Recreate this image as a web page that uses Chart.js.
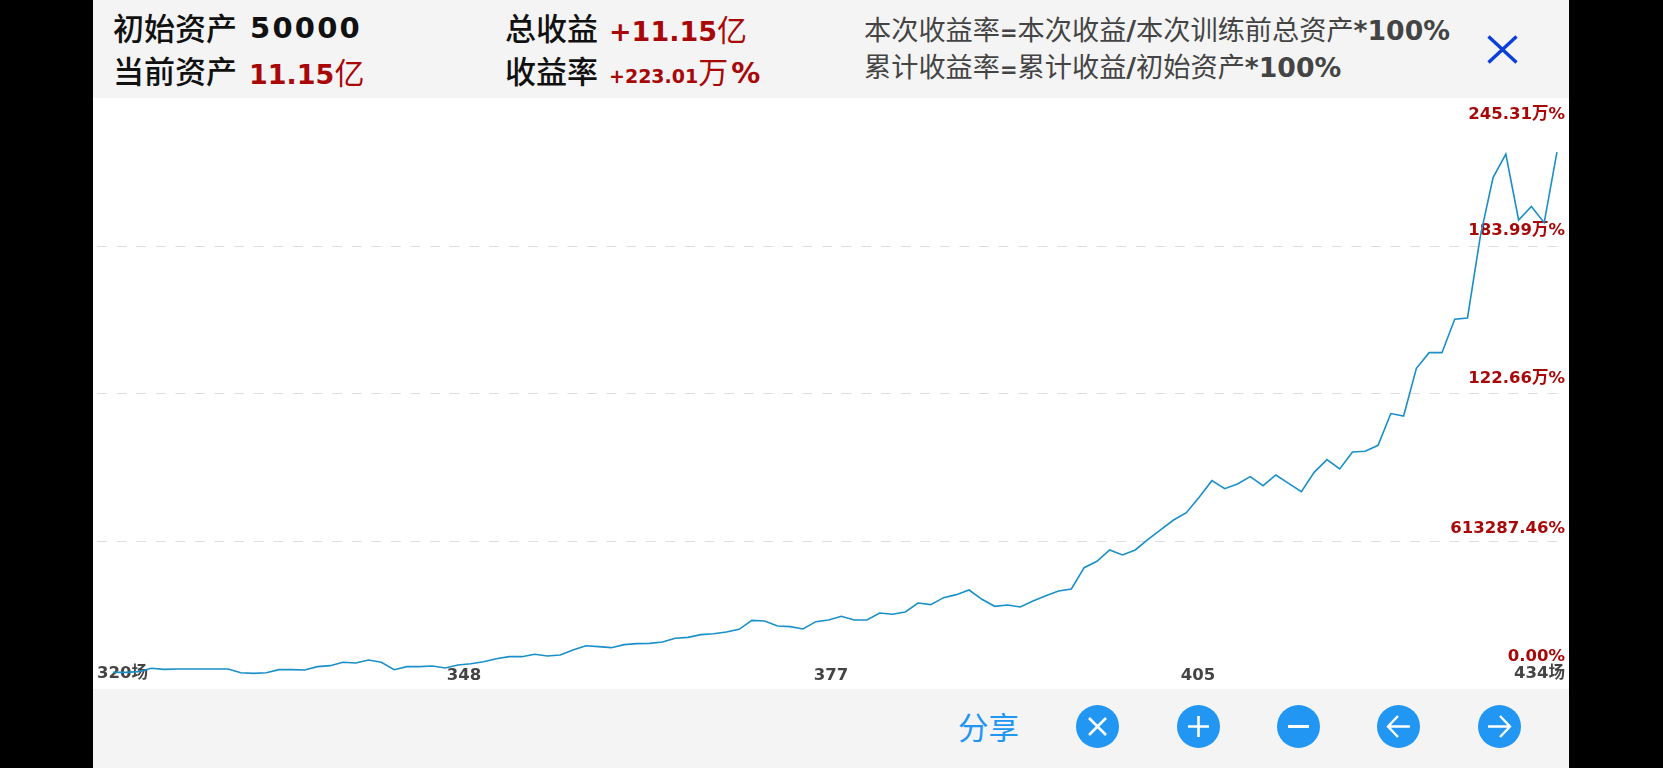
<!DOCTYPE html>
<html>
<head>
<meta charset="utf-8">
<script src="https://cdn.jsdelivr.net/npm/chart.js"></script>
<style>
html, body { margin: 0; width: 1663px; height: 768px; background: #000; overflow: hidden; }
body { font-family: "DejaVu Sans", "Noto Sans CJK SC", sans-serif; }
#plot { position: absolute; left: 93px; top: 98px; width: 1476px; height: 591px; background: #fff; }
.panel { position: absolute; left: 93px; width: 1476px; background: #f4f4f4; }
canvas { position: absolute; left: 0; top: 0; }
.t { position: absolute; white-space: nowrap; line-height: 40px; height: 40px; }
.cn { font-family: "Noto Sans CJK SC", sans-serif; font-weight: 400; }
.lab { font-size: 31px; color: #111; font-weight: 500; }
.b { font-weight: 700; font-size: 27px; color: #a80808; }
.f { font-size: 27.2px; color: #444; }
.f b { font-size: 26.7px; }
.f b.eq { font-size: 21px; }
.btn { position: absolute; top: 705px; width: 43px; height: 43px; border-radius: 50%; background: #2196f3; }
.btn svg { display: block; }
</style>
</head>
<body>
<div class="panel" style="top:0;height:98px"></div>
<div id="plot"></div>
<div class="panel" style="top:689px;height:79px"></div>

<div class="t cn lab" style="left:113px;top:7px">初始资产</div>
<div class="t b" style="left:250px;top:8px;color:#111;font-size:29px;letter-spacing:2.2px">50000</div>
<div class="t cn lab" style="left:113px;top:50px">当前资产</div>
<div class="t b" style="left:249px;top:51px">11.15<span class="cn" style="font-size:30px">亿</span></div>
<div class="t cn lab" style="left:505px;top:7px">总收益</div>
<div class="t b" style="left:609px;top:8px">+11.15<span class="cn" style="font-size:30px">亿</span></div>
<div class="t cn lab" style="left:505px;top:50px">收益率</div>
<div class="t b" style="left:609px;top:50px;font-size:19px">+223.01<span class="cn" style="font-size:30px;letter-spacing:3px">万</span><span style="font-size:29px">%</span></div>
<div class="t f" style="left:864px;top:8px"><span class="cn">本次收益率</span><b class="eq">=</b><span class="cn">本次收益</span><b>/</b><span class="cn">本次训练前总资产</span><b>*100%</b></div>
<div class="t f" style="left:864px;top:45px"><span class="cn">累计收益率</span><b class="eq">=</b><span class="cn">累计收益</span><b>/</b><span class="cn">初始资产</span><b>*100%</b></div>
<svg style="position:absolute;left:1487px;top:35px" width="31" height="29"><path d="M1.5 1.5L29.5 27.5M29.5 1.5L1.5 27.5" stroke="#0a3fdc" stroke-width="3.4" fill="none"/></svg>

<div class="t cn" style="left:958px;top:706px;font-size:30.5px;color:#2196f3">分享</div>
<div class="btn" style="left:1076px"><svg width="43" height="43"><path d="M13 13L30 30M30 13L13 30" stroke="#fff" stroke-width="2.6"/></svg></div>
<div class="btn" style="left:1177px"><svg width="43" height="43"><path d="M11 21.5H32M21.5 11V32" stroke="#fff" stroke-width="2.6"/></svg></div>
<div class="btn" style="left:1277px"><svg width="43" height="43"><path d="M11 21.5H32" stroke="#fff" stroke-width="3"/></svg></div>
<div class="btn" style="left:1377px"><svg width="43" height="43"><path d="M11 21.5H33M21 11L11 21.5L21 32" stroke="#fff" stroke-width="2.4" fill="none"/></svg></div>
<div class="btn" style="left:1478px"><svg width="43" height="43"><path d="M10 21.5H32M22 11L32 21.5L22 32" stroke="#fff" stroke-width="2.4" fill="none"/></svg></div>

<canvas id="chart" width="1663" height="768"></canvas>

<script>
// games played, x axis
const games = [
    321, 322, 323, 324, 325, 326, 327, 328, 329, 330,
    331, 332, 333, 334, 335, 336, 337, 338, 339, 340,
    341, 342, 343, 344, 345, 346, 347, 348, 349, 350,
    351, 352, 353, 354, 355, 356, 357, 358, 359, 360,
    361, 362, 363, 364, 365, 366, 367, 368, 369, 370,
    371, 372, 373, 374, 375, 376, 377, 378, 379, 380,
    381, 382, 383, 384, 385, 386, 387, 388, 389, 390,
    391, 392, 393, 394, 395, 396, 397, 398, 399, 400,
    401, 402, 403, 404, 405, 406, 407, 408, 409, 410,
    411, 412, 413, 414, 415, 416, 417, 418, 419, 420,
    421, 422, 423, 424, 425, 426, 427, 428, 429, 430,
    431, 432, 433, 434
];

// cumulative return, in 万%
const returns = [
    6.92, 6.92, 7.2, 8.59, 8.17, 8.31, 8.31, 8.31, 8.31, 8.31,
    6.78, 6.51, 6.78, 8.03, 8.03, 7.89, 9.28, 9.69, 11.08, 10.8,
    12.05, 11.08, 8.03, 9.28, 9.28, 9.55, 8.72, 9.97, 10.52, 11.35,
    12.6, 13.43, 13.43, 14.4, 13.71, 14.12, 16.2, 17.95, 17.59, 17.17,
    18.42, 18.83, 18.97, 19.52, 21.05, 21.46, 22.57, 22.98, 23.68, 24.79,
    28.52, 28.25, 26.17, 25.89, 24.92, 27.97, 28.66, 30.19, 28.66, 28.66,
    31.57, 31.02, 31.99, 35.72, 35.03, 37.94, 39.19, 41.12, 37.25, 34.34,
    34.89, 34.06, 36.56, 38.77, 40.71, 41.54, 50.4, 53.03, 57.74, 55.66,
    57.74, 62.17, 66.19, 70.2, 73.25, 79.62, 86.54, 83.22, 85.16, 88.2,
    84.46, 88.9, 85.43, 81.97, 90.0, 95.27, 91.39, 98.45, 98.73, 101.22,
    114.4, 113.4, 133.2, 139.7, 139.7, 153.56, 154.1, 187.9, 212.4, 222.2,
    194.8, 200.4, 193.7, 223.01
];

const yTicks = [0, 61.3287, 122.66, 183.99, 245.31];
const yTickLabels = ['0.00%', '613287.46%', '122.66万%', '183.99万%', '245.31万%'];
const xTickLabels = ['320场', '348', '377', '405', '434场'];

const family = '"DejaVu Sans", "Noto Sans CJK SC", sans-serif';

new Chart(document.getElementById('chart'), {
    type: 'line',
    data: {
        labels: games,
        datasets: [{
            data: games.map((g, i) => ({ x: g, y: returns[i] })),
            borderColor: '#1a8fc8',
            borderWidth: 1.6,
            pointRadius: 0,
            tension: 0,
            clip: false
        }]
    },
    options: {
        responsive: false,
        animation: false,
        layout: { padding: { left: 97, right: 98, top: 98.4, bottom: 79 } },
        plugins: { legend: { display: false }, tooltip: { enabled: false } },
        scales: {
            x: {
                type: 'linear',
                min: 319.75,
                max: 434.63,
                grid: { display: false },
                border: { display: false },
                afterBuildTicks: axis => {
                    axis.ticks = xTickLabels.map((l, i) => ({ value: axis.min + i * (axis.max - axis.min) / 4 }));
                },
                afterFit: axis => { axis.height = 0; },
                ticks: {
                    autoSkip: false,
                    maxRotation: 0,
                    align: 'inner',
                    // mirror keeps the labels inside the plot and out of the axis clip box
                    mirror: true,
                    padding: 3.5,
                    color: '#444',
                    // end labels sit a little higher than the middle ones
                    font: ctx => ({
                        family,
                        size: 16.5,
                        weight: 'bold',
                        lineHeight: ctx.index === 0 || ctx.index === 4 ? '24px' : '20px'
                    }),
                    callback: (v, i) => xTickLabels[i]
                }
            },
            y: {
                position: 'right',
                min: 0,
                max: 245.31,
                border: { display: false, dash: [9.8, 9.8] },
                grid: {
                    drawTicks: false,
                    color: ctx => (ctx.index > 0 && ctx.index < 4 ? '#dedede' : 'transparent')
                },
                afterBuildTicks: axis => {
                    axis.ticks = yTicks.map(v => ({ value: v }));
                },
                afterFit: axis => { axis.width = 0; },
                ticks: {
                    mirror: true,
                    padding: 0,
                    color: '#a80808',
                    // two-line labels with a big line height lift the text off its grid line
                    font: ctx => ({
                        family,
                        size: 16.5,
                        weight: 'bold',
                        lineHeight: ctx.index === 0 ? '65px' : ctx.index === 1 ? '25px' : ctx.index === 4 ? '32px' : '30px'
                    }),
                    callback: (v, i) => (i === 4 ? ['', yTickLabels[i]] : [yTickLabels[i], ''])
                }
            }
        }
    }
});
</script>
</body>
</html>
